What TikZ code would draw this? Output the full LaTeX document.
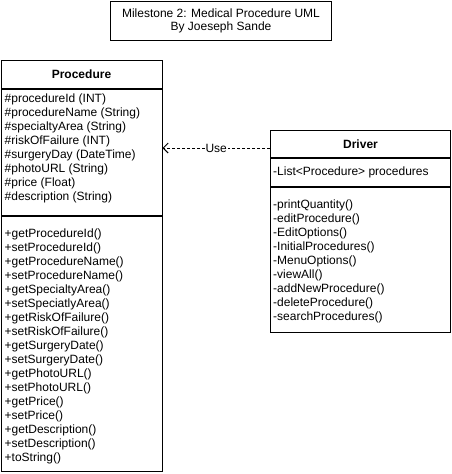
\documentclass[tikz,border=0pt]{standalone}
\usepackage{fontspec}
\setmainfont{Liberation Sans}
\usetikzlibrary{arrows.meta,positioning}
\definecolor{ink}{HTML}{000000}
\tikzset{
  umlbox/.style    ={draw=ink, fill=white, line width=1pt, inner sep=0pt, anchor=north west},
  headtext/.style  ={font=\fontsize{12}{14}\selectfont\bfseries},
  membertext/.style={inner sep=0pt, align=left, font=\fontsize{12}{14}\selectfont},
  usearr/.style    ={-{Straight Barb[length=5pt,width=10pt]}, line width=1pt, dash pattern=on 3pt off 2pt},
}

\begin{document}
\begin{tikzpicture}[x=1pt,y=-1pt]
    \useasboundingbox (0,0) rectangle (451,474);

    % title
    \node[umlbox, minimum width=221pt, minimum height=39pt, align=center,
          font=\fontsize{12}{13}\selectfont] (title) at (110,1)
      {Milestone 2: Medical Procedure UML\\By Joeseph Sande};

    % Procedure class
    \node[umlbox, headtext, minimum width=161pt, minimum height=28pt]  (prochead) at (0.5,60) {Procedure};
    \node[umlbox, minimum width=161pt, minimum height=126pt]           (procattr) at (prochead.south west) {};
    \node[umlbox, minimum width=161pt, minimum height=255pt]           (procmeth) at (procattr.south west) {};

    \node[membertext, below right=4.5pt and 4pt of procattr.north west] (procattrtxt)
      {\#procedureId (INT)\\
       \#procedureName (String)\\
       \#specialtyArea (String)\\
       \#riskOfFailure (INT)\\
       \#surgeryDay (DateTime)\\
       \#photoURL (String)\\
       \#price (Float)\\
       \#description (String)};
    \node[membertext, below right=12.5pt and 4pt of procmeth.north west] (procmethtxt)
      {+getProcedureId()\\
       +setProcedureId()\\
       +getProcedureName()\\
       +setProcedureName()\\
       +getSpecialtyArea()\\
       +setSpeciatlyArea()\\
       +getRiskOfFailure()\\
       +setRiskOfFailure()\\
       +getSurgeryDate()\\
       +setSurgeryDate()\\
       +getPhotoURL()\\
       +setPhotoURL()\\
       +getPrice()\\
       +setPrice()\\
       +getDescription()\\
       +setDescription()\\
       +toString()};

    % Driver class
    \node[umlbox, headtext, minimum width=180pt, minimum height=27pt]  (drvhead) at (270,130) {Driver};
    \node[umlbox, minimum width=180pt, minimum height=28pt]            (drvattr) at (drvhead.south west) {};
    \node[umlbox, minimum width=180pt, minimum height=145pt]           (drvmeth) at (drvattr.south west) {};

    \node[membertext, right=3pt of drvattr.west] (drvattrtxt) {-List<Procedure> procedures};
    \node[membertext, below right=12.5pt and 3pt of drvmeth.north west] (drvmethtxt)
      {-printQuantity()\\
       -editProcedure()\\
       -EditOptions()\\
       -InitialProcedures()\\
       -MenuOptions()\\
       -viewAll()\\
       -addNewProcedure()\\
       -deleteProcedure()\\
       -searchProcedures()};

    % dependency
    \coordinate (usey) at (0,148);
    \draw[usearr] (drvhead.west |- usey) -- node[fill=white, inner sep=1pt, font=\fontsize{12}{14}\selectfont] (uselbl) {Use} (procattr.east |- usey);
\end{tikzpicture}
\end{document}
